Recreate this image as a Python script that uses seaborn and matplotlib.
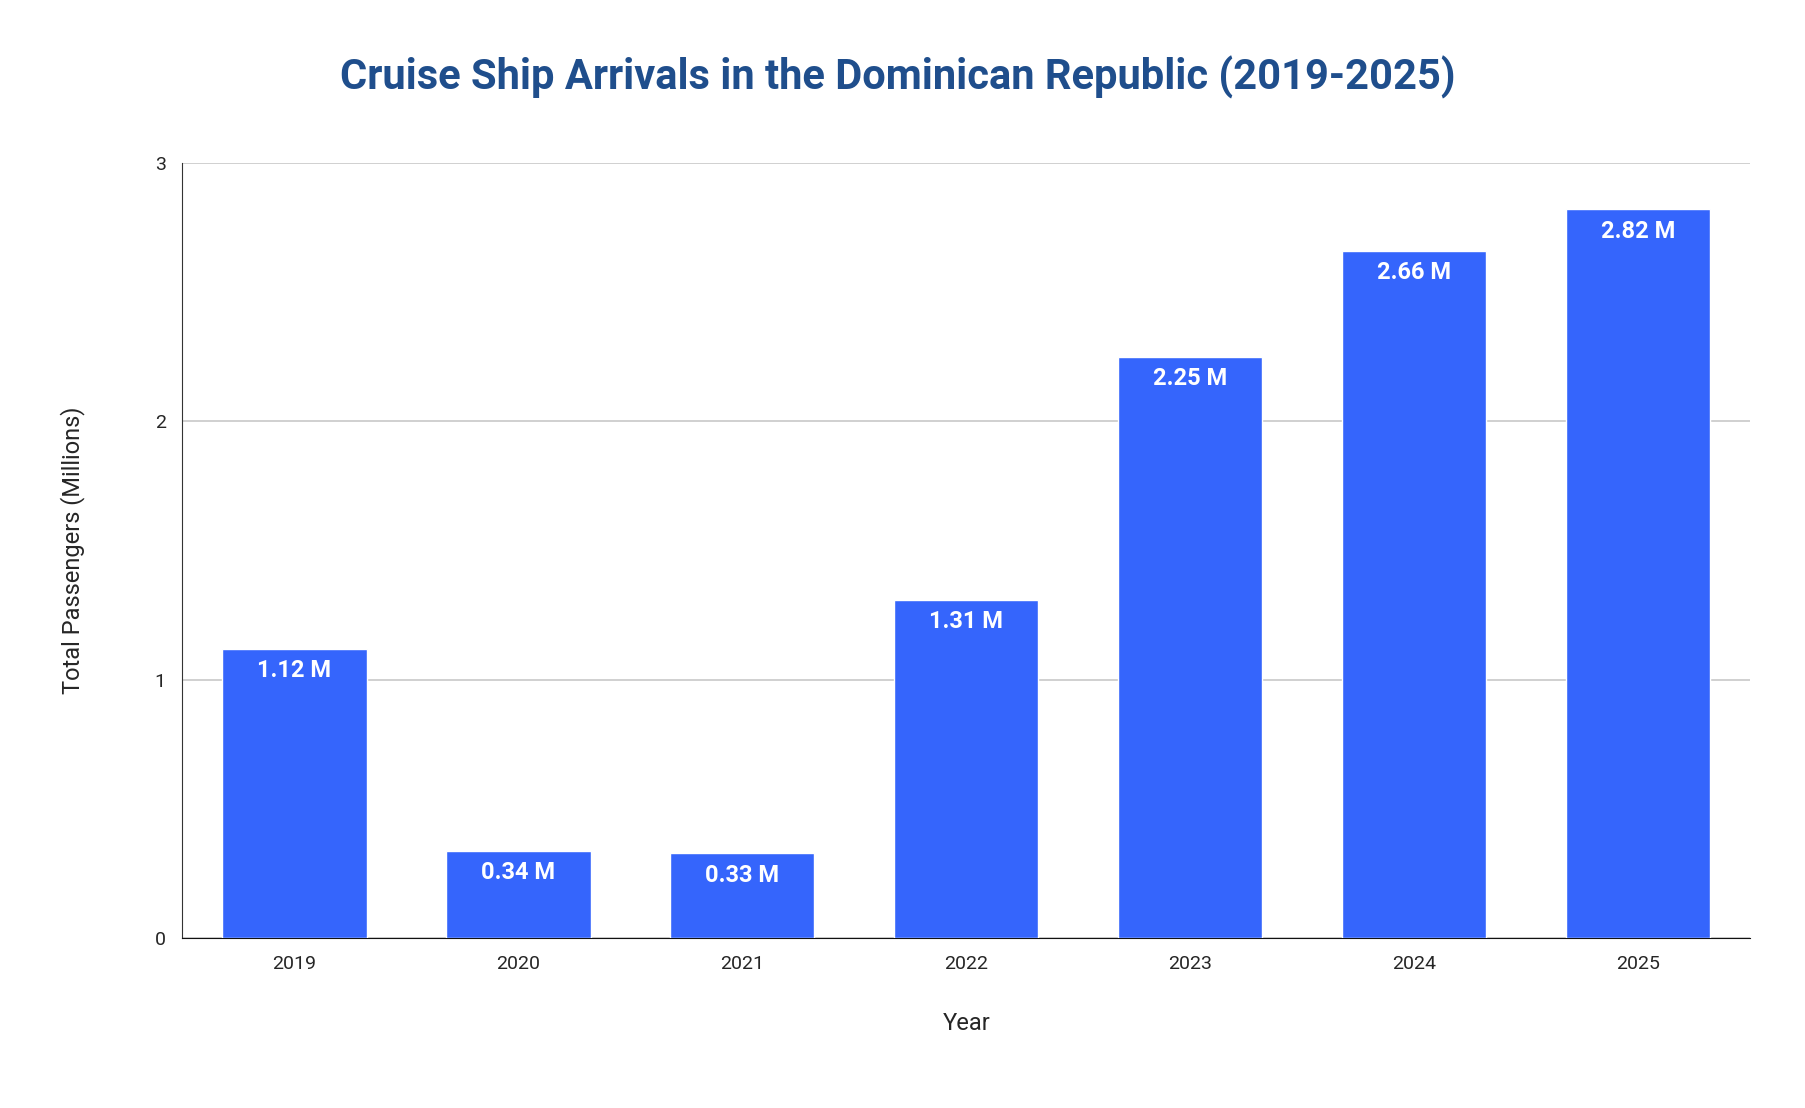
import matplotlib.pyplot as plt
import seaborn as sns
import pandas as pd

# Data
###############################################################################
years = ['2019', '2020', '2021', '2022', '2023', '2024', '2025']
passengers = [1.12, 0.34, 0.33, 1.31, 2.25, 2.66, 2.82]
labels = ['1.12 M', '0.34 M', '0.33 M', '1.31 M', '2.25 M', '2.66 M', '2.82 M']

df = pd.DataFrame({'Year': years, 'Passengers': passengers})

sns.set_style('white')
plt.rcParams['font.family'] = ['Roboto', 'DejaVu Sans']

fig = plt.figure(figsize=(18.06, 11.08), dpi=100)
ax = fig.add_axes([0.101, 0.153, 0.868, 0.700])

sns.barplot(data=df, x='Year', y='Passengers', color='#3565fc',
            saturation=1, width=0.645, ax=ax, zorder=3)

for i, (v, t) in enumerate(zip(passengers, labels)):
    ax.text(i, v - 0.04, t, ha='center', va='top', color='white',
            fontsize=17, fontweight='bold', zorder=4)

ax.set_ylim(0, 3)
ax.set_yticks([0, 1, 2, 3])
ax.yaxis.grid(True, color='#c8c8c8', linewidth=1.2, zorder=0)
for s in ['top', 'right']:
    ax.spines[s].set_visible(False)
ax.spines['left'].set_color('#333333')
ax.spines['bottom'].set_color('#111111')
ax.tick_params(axis='both', labelsize=14, length=0, pad=12)
ax.set_xlabel('Year', fontsize=17, labelpad=28)
ax.set_ylabel('Total Passengers (Millions)', fontsize=17, labelpad=50)

fig.text(0.497, 0.93, 'Cruise Ship Arrivals in the Dominican Republic (2019-2025)',
         ha='center', va='center', fontsize=30, fontweight='bold', color='#1f4e8c')

plt.savefig('out.png', dpi=100)
